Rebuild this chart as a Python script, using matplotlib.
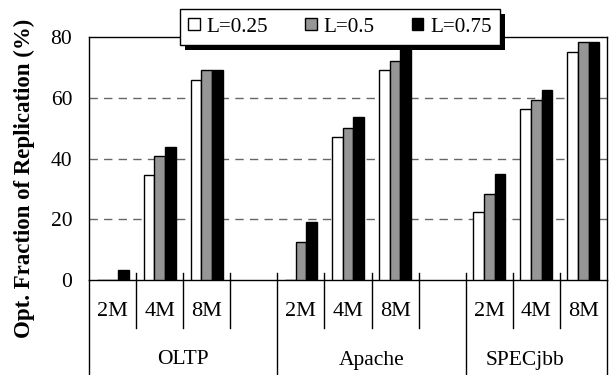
import matplotlib
matplotlib.use("Agg")
import matplotlib.pyplot as plt
from matplotlib.patches import Patch, Rectangle
import matplotlib.transforms as mtransforms

plt.rcParams['font.family'] = ['Liberation Serif', 'DejaVu Serif']

# ---- data ----
slot_labels = ["2M", "4M", "8M", "", "2M", "4M", "8M", "", "2M", "4M", "8M"]
groups = ["OLTP", "Apache", "SPECjbb"]
series_names = ["L=0.25", "L=0.5", "L=0.75"]
L025 = [0, 34.6, 66.0, None, 0, 47.0, 69.3, None, 22.3, 56.3, 75.1]
L050 = [0, 40.7, 69.0, None, 12.6, 50.2, 72.0, None, 28.3, 59.4, 78.3]
L075 = [3.2, 43.8, 69.0, None, 19.2, 53.5, 80.0, None, 34.8, 62.7, 78.3]
yticks = [0, 20, 40, 60, 80]

W, H = 610, 375
fig = plt.figure(figsize=(W / 100, H / 100), dpi=100)
left, right, top, bottom = 89, 607, 37, 280
ax = fig.add_axes([left / W, 1 - bottom / H, (right - left) / W, (bottom - top) / H])

n = len(slot_labels)
ax.set_xlim(0, n)
ax.set_ylim(0, 80)

bw = 0.227
colors = ["white", "#969696", "black"]
for k, (vals, c) in enumerate(zip([L025, L050, L075], colors)):
    xs = [i + 0.5 + (k - 1) * bw for i, v in enumerate(vals) if v is not None]
    hs = [v for v in vals if v is not None]
    ax.bar(xs, hs, width=bw, color=c, edgecolor="black", linewidth=1.0, zorder=3)

# grid
for y in yticks[1:-1]:
    ax.axhline(y, color="#666666", linewidth=1.0, dashes=(6, 4.5), zorder=1)

ax.set_yticks(yticks)
ax.tick_params(axis='y', length=0, pad=12, labelsize=15.5)
ax.set_xticks([])
for s in ax.spines.values():
    s.set_linewidth(1.0)

# x category table
trans = mtransforms.blended_transform_factory(ax.transData, ax.transAxes)
h = bottom - top
y_tick_top = 7 / h
y_row1 = -(328 - bottom) / h
y_row2 = -(375 - bottom) / h - 0.01
group_bounds = [0, 4, 8, n]
for i in range(0, n + 1):
    if i in group_bounds:
        ax.plot([i, i], [y_tick_top if 0 < i < n else 0, y_row2], color="black",
                linewidth=1.0, transform=trans, clip_on=False)
    else:
        ax.plot([i, i], [y_tick_top, y_row1], color="black", linewidth=1.0,
                transform=trans, clip_on=False)
for i, lab in enumerate(slot_labels):
    if lab:
        ax.text(i + 0.5, -(311 - bottom) / h, lab, transform=trans, ha="center",
                va="center", fontsize=16)
group_centers = [2.0, 6.0, 9.25]
for g, cx in zip(groups, group_centers):
    ax.text(cx, -(360 - bottom) / h, g, transform=trans, ha="center", va="center",
            fontsize=15.5)

fig.text(24 / W, 1 - 338 / H, "Opt. Fraction of Replication (%)", rotation=90,
         ha="center", va="bottom", fontsize=16.5, fontweight="bold")

handles = [Patch(facecolor=c, edgecolor="black", linewidth=1.0) for c in colors]
leg = fig.legend(handles, series_names, loc="center",
                 bbox_to_anchor=(340 / W, 1 - 27 / H), ncol=3, fontsize=15.2,
                 frameon=True, fancybox=False, framealpha=1, edgecolor="black",
                 handlelength=0.55, handleheight=0.55, handletextpad=0.33,
                 columnspacing=1.75, borderpad=0.4, borderaxespad=0)
leg.get_frame().set_linewidth(1.0)
leg.set_zorder(10)

fig.canvas.draw()
bb = leg.get_window_extent()
shadow = Rectangle((bb.x0 + 5, bb.y0 - 5), bb.width, bb.height, transform=None,
                   facecolor="black", edgecolor="none", zorder=9)
fig.add_artist(shadow)

fig.savefig("out.png", dpi=100)
